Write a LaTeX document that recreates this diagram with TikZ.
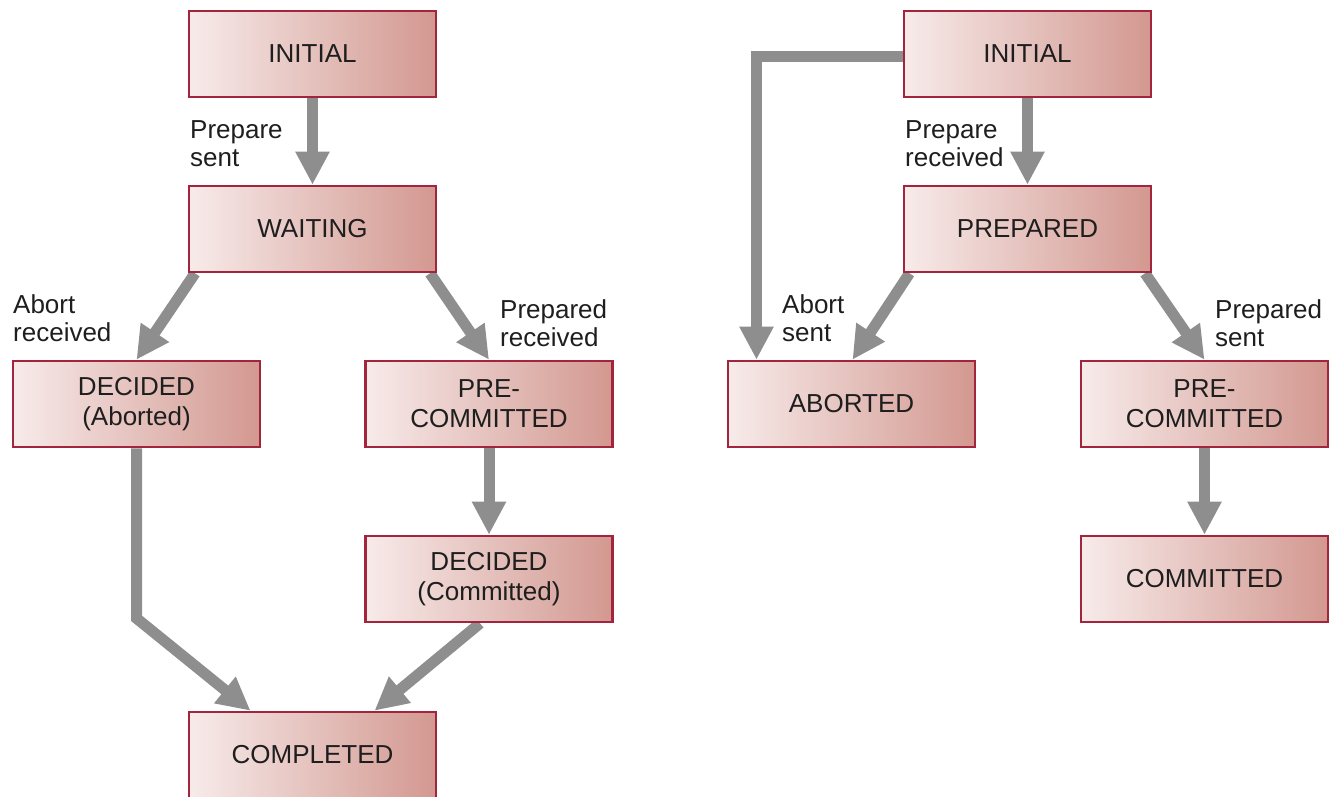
\documentclass[tikz,border=0pt]{standalone}
\usepackage{fontspec}
\setmainfont{Liberation Sans}
\usetikzlibrary{arrows.meta,calc}
\pgfdeclarelayer{bg}
\pgfsetlayers{bg,main}
\definecolor{boxL}{HTML}{F7EBEA}
\definecolor{boxR}{HTML}{D39890}
\definecolor{boxB}{HTML}{A3243D}
\definecolor{arr}{HTML}{8E8E8E}
\definecolor{txt}{HTML}{1E1E1E}
\tikzset{
  state/.style={draw=boxB, line width=2.6pt, left color=boxL, right color=boxR,
    minimum width=247pt, minimum height=86pt, inner sep=0pt, align=center,
    text=txt, font=\fontsize{26}{30}\selectfont},
  lbl/.style={anchor=base west, align=left, inner sep=0pt, text=txt,
    font=\fontsize{26}{28}\selectfont},
  flow/.style={draw=arr, line width=11pt, line join=miter,
    -{Triangle[length=33pt,width=32pt]}}
}
\begin{document}
\begin{tikzpicture}[x=1pt,y=-1pt]
\useasboundingbox (0,0) rectangle (1331,796);
% left
\node[state] (I1) at (312.5,54) {INITIAL};
\node[state] (W) at (312.5,229) {WAITING};
\node[state] (DA) at (136.5,404) {DECIDED\\(Aborted)};
\node[state] (PC1) at (489,404) {PRE-\\COMMITTED};
\node[state] (DC) at (489,579) {DECIDED\\(Committed)};
\node[state] (C) at (312.5,755) {COMPLETED};
% right
\node[state] (I2) at (1027.5,54) {INITIAL};
\node[state] (P) at (1027.5,229) {PREPARED};
\node[state] (A) at (851.5,404) {ABORTED};
\node[state] (PC2) at (1204.5,404) {PRE-\\COMMITTED};
\node[state] (CM) at (1204.5,579) {COMMITTED};
% labels (anchor = baseline of last line)
\node[lbl] (l1) at (190,166) {Prepare\\sent};
\node[lbl] (l2) at (13,341) {Abort\\received};
\node[lbl] (l3) at (500,346) {Prepared\\received};
\node[lbl] (l4) at (905,166) {Prepare\\received};
\node[lbl] (l5) at (782,341) {Abort\\sent};
\node[lbl] (l6) at (1215,346) {Prepared\\sent};
\begin{pgfonlayer}{bg}
\draw[flow] (I1.south) -- (W.north);
\draw[flow] ($(W.south)+(-117.5,0)$) -- (DA.north);
\draw[flow] ($(W.south)+(117.5,0)$) -- (PC1.north);
\draw[flow] (PC1.south) -- (DC.north);
\coordinate (bend) at ($(DA.south)+(0,170)$);
\draw[flow] (DA.south) -- (bend) -- ($(C.north)+(-62,0)$);
\draw[flow] ($(DC.south)+(-9,0)$) -- ($(C.north)+(62,0)$);
\draw[flow] (I2.south) -- (P.north);
\draw[flow] ($(I2.west)+(0,2)$) -| ($(A.north)+(-95,0)$);
\draw[flow] ($(P.south)+(-118,0)$) -- ($(A.north)+(1,0)$);
\draw[flow] ($(P.south)+(117.5,0)$) -- (PC2.north);
\draw[flow] (PC2.south) -- (CM.north);
\end{pgfonlayer}
\end{tikzpicture}
\end{document}
